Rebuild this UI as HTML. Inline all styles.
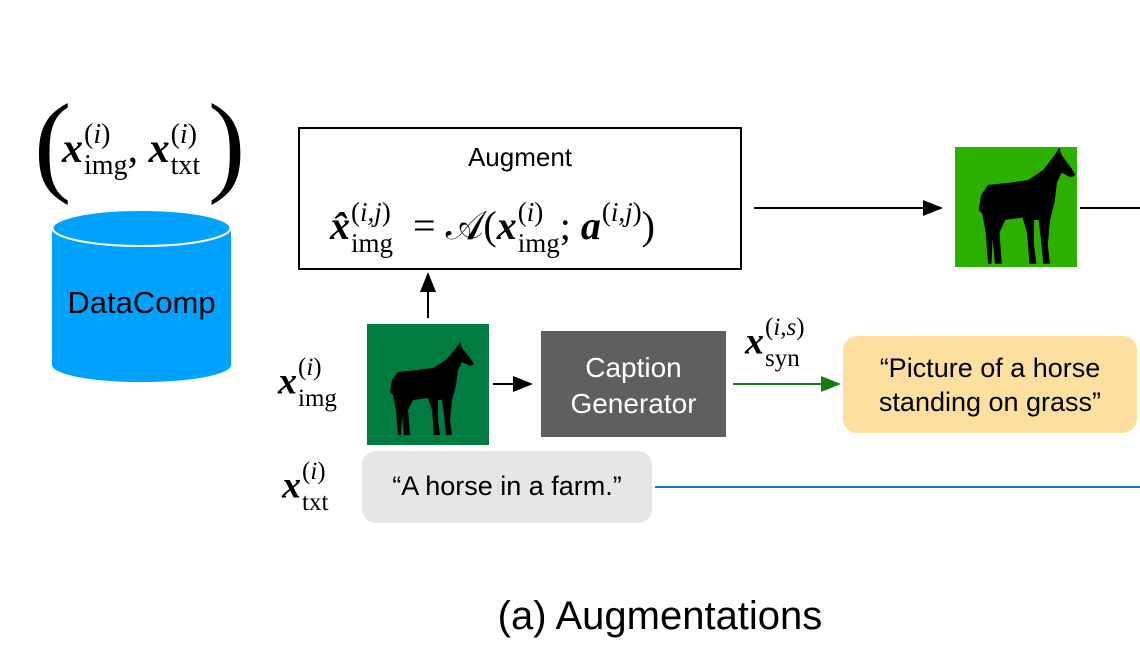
<!DOCTYPE html>
<html><head><style>
body{margin:0;width:1140px;height:669px;background:#fff;position:relative;overflow:hidden;font-family:"Liberation Sans",sans-serif}
.a{position:absolute}
.m{font-family:"Liberation Serif",serif;position:absolute;white-space:nowrap;font-size:38px;line-height:1}
.m b{font-style:italic}
.ss{display:inline-flex;flex-direction:column;vertical-align:middle;font-size:25px;line-height:23px;margin-left:1px}
.ss .sp{position:relative;top:-6px}
.ss .sb{position:relative;top:2px}
</style></head><body>
<svg class="a" style="left:0;top:0" width="1140" height="669">
<defs>
<marker id="ah" markerWidth="10" markerHeight="8" refX="9" refY="4" orient="auto"><path d="M0,0 L10,4 L0,8z" fill="#000"/></marker>
<marker id="ag" markerWidth="10" markerHeight="8" refX="9" refY="4" orient="auto"><path d="M0,0 L10,4 L0,8z" fill="#1a7a1a"/></marker>
<g id="horse"><path d="M20,95 L18,70 L15,55 L12,52 L14,40 L20,32 L40,30 L55,28 L68,20 L78,8 L82,2 L84,8 L92,18 L96,24 L92,26 L84,22 L80,30 L78,45 L74,60 L72,80 L74,95 L68,95 L66,75 L64,60 L60,60 L60,80 L62,95 L56,95 L54,70 L50,58 L35,60 L30,70 L32,95 L26,95 L24,75 L23,95z" fill="#000"/></g>
</defs>
<path d="M52,228 L52,365 A89,17 0 0 0 231,365 L231,228" fill="#00a2ff"/>
<ellipse cx="141.5" cy="228" rx="89" ry="18" fill="#00a2ff" stroke="#fff" stroke-width="2"/>
<rect x="299" y="128" width="442" height="141" fill="none" stroke="#000" stroke-width="2"/>
<line x1="754" y1="208" x2="941" y2="208" stroke="#000" stroke-width="2" marker-end="url(#ah)"/>
<rect x="955" y="147" width="122" height="120" fill="#2bb000"/>
<g transform="translate(965,145) scale(1.15,1.25)"><use href="#horse"/></g>
<line x1="1080" y1="208" x2="1140" y2="208" stroke="#000" stroke-width="2"/>
<line x1="428" y1="318" x2="428" y2="274" stroke="#000" stroke-width="2" marker-end="url(#ah)"/>
<rect x="367" y="324" width="122" height="121" fill="#007c40"/>
<g transform="translate(378,340) scale(1.0,1.0)"><use href="#horse"/></g>
<line x1="493" y1="384" x2="531" y2="384" stroke="#000" stroke-width="2" marker-end="url(#ah)"/>
<rect x="541" y="331" width="185" height="106" fill="#5f5f5f"/>
<line x1="733" y1="384" x2="839" y2="384" stroke="#1a7a1a" stroke-width="2" marker-end="url(#ag)"/>
<rect x="843" y="336" width="294" height="97" rx="14" fill="#fddfa0"/>
<rect x="362" y="451" width="290" height="72" rx="14" fill="#e6e6e6"/>
<line x1="655" y1="487" x2="1140" y2="487" stroke="#1c75bc" stroke-width="2"/>
</svg>
<div class="a" style="left:52px;top:285px;width:179px;text-align:center;font-size:31px">DataComp</div>
<div class="m" style="left:34px;top:88px;font-size:112px;font-weight:300">(</div>
<div class="m" style="left:208px;top:88px;font-size:112px;font-weight:300">)</div>
<div class="m" style="left:62px;top:128px;font-size:42px"><b>x</b><span class="ss" style="font-size:28px"><span class="sp">(<i>i</i>)</span><span class="sb">img</span></span>, <b>x</b><span class="ss" style="font-size:28px"><span class="sp">(<i>i</i>)</span><span class="sb">txt</span></span></div>
<div class="m" style="left:330px;top:206px;font-size:40px"><b>x̂</b><span class="ss" style="font-size:27px"><span class="sp">(<i>i,j</i>)</span><span class="sb">img</span></span>&nbsp; = 𝒜(<b>x</b><span class="ss" style="font-size:27px"><span class="sp">(<i>i</i>)</span><span class="sb">img</span></span>; <b>a</b><span class="ss" style="font-size:27px"><span class="sp">(<i>i,j</i>)</span><span class="sb">&nbsp;</span></span>)</div>
<div class="a" style="left:299px;top:142px;width:442px;text-align:center;font-size:26px">Augment</div>
<div class="m" style="left:278px;top:362px"><b>x</b><span class="ss"><span class="sp">(<i>i</i>)</span><span class="sb">img</span></span></div>
<div class="m" style="left:282px;top:466px"><b>x</b><span class="ss"><span class="sp">(<i>i</i>)</span><span class="sb">txt</span></span></div>
<div class="m" style="left:745px;top:322px"><b>x</b><span class="ss"><span class="sp">(<i>i,s</i>)</span><span class="sb">syn</span></span></div>
<div class="a" style="left:541px;top:350px;width:185px;text-align:center;font-size:28px;line-height:36px;color:#fff">Caption<br>Generator</div>
<div class="a" style="left:843px;top:351px;width:294px;text-align:center;font-size:27px;line-height:34px">“Picture of a horse<br>standing on grass”</div>
<div class="a" style="left:362px;top:471px;width:290px;text-align:center;font-size:27px">“A horse in a farm.”</div>
<div class="a" style="left:440px;top:594px;width:440px;text-align:center;font-size:40px">(a) Augmentations</div>
</body></html>
